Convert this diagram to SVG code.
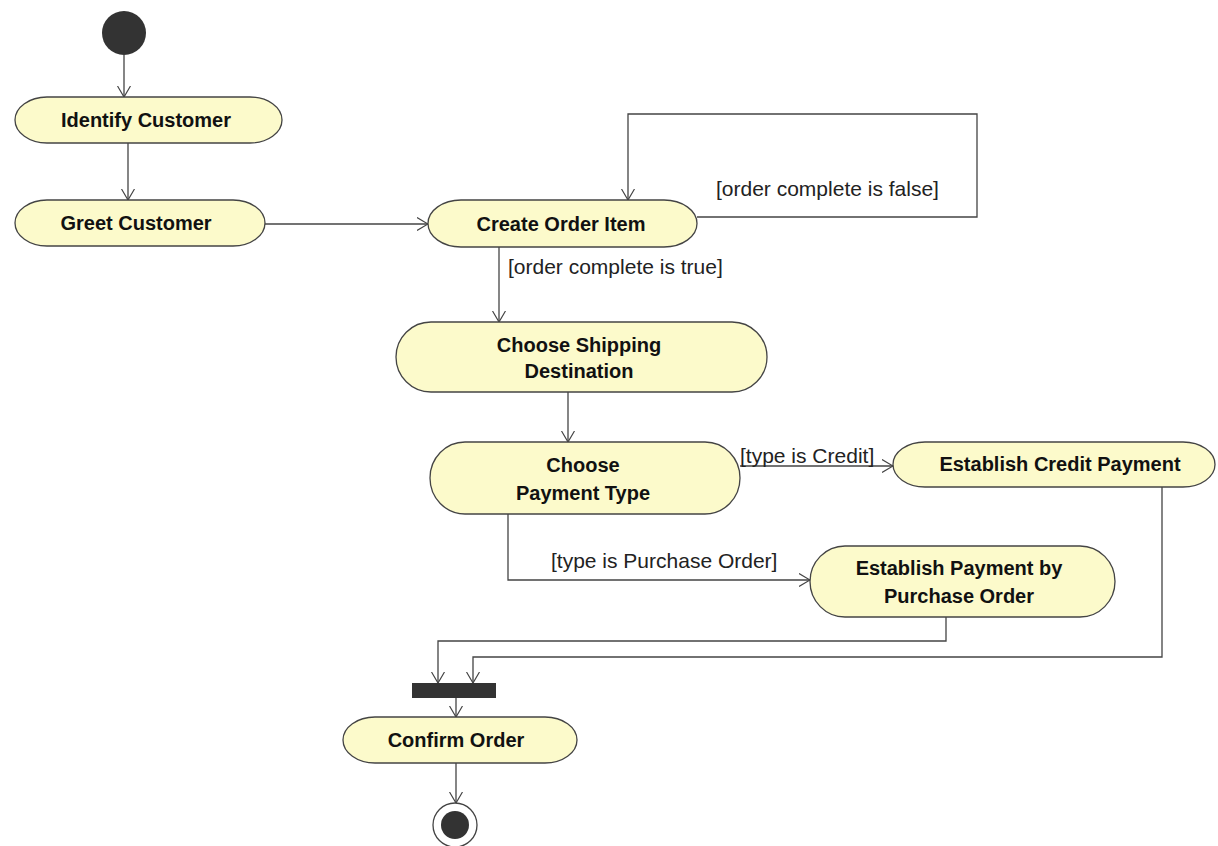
<svg xmlns="http://www.w3.org/2000/svg" width="1218" height="846" viewBox="0 0 1218 846">
<defs>
<marker id="arr" viewBox="0 0 12 14" refX="11" refY="7" markerWidth="12" markerHeight="14" markerUnits="userSpaceOnUse" orient="auto">
<path d="M0,0.5 L11,7 L0,13.5" fill="none" stroke="#444" stroke-width="1.2"/>
</marker>
<style>
.act{fill:#fcfacb;stroke:#444;stroke-width:1.3}
.lbl{font-family:"Liberation Sans",Arial,sans-serif;font-weight:bold;font-size:20px;fill:#111;text-anchor:middle}
.grd{font-family:"Liberation Sans",Arial,sans-serif;font-size:21px;fill:#222}
.con{fill:none;stroke:#444;stroke-width:1.3;marker-end:url(#arr)}
.dark{fill:#333}
</style>
</defs>
<rect width="1218" height="846" fill="#fff"/>
<g id="connectors">
<path class="con" d="M124,55 V97"/>
<path class="con" d="M128,143 V200"/>
<path class="con" d="M265,224 H428"/>
<path class="con" d="M697,217 H977 V114 H628 V200"/>
<path class="con" d="M499,247 V322"/>
<path class="con" d="M568,392 V442"/>
<path class="con" d="M740,466 H893"/>
<path class="con" d="M508,514 V580 H810"/>
<path class="con" d="M1162,487 V657 H473 V683"/>
<path class="con" d="M946,617 V641 H438 V683"/>
<path class="con" d="M456,698 V717"/>
<path class="con" d="M456,763 V803"/>
<text class="grd" x="716" y="196">[order complete is false]</text>
<text class="grd" x="508" y="274">[order complete is true]</text>
<text class="grd" x="740" y="463">[type is Credit]</text>
<text class="grd" x="551" y="568">[type is Purchase Order]</text>
</g>
<g id="start"><circle class="dark" cx="124" cy="33" r="22"/></g>
<g id="identify"><rect class="act" x="15" y="97" width="267" height="46" rx="32" ry="23"/><text class="lbl" x="146" y="127">Identify Customer</text></g>
<g id="greet"><rect class="act" x="15" y="200" width="250" height="46" rx="32" ry="23"/><text class="lbl" x="136" y="230">Greet Customer</text></g>
<g id="create"><rect class="act" x="428" y="200" width="269" height="47" rx="33" ry="23.5"/><text class="lbl" x="561" y="231">Create Order Item</text></g>
<g id="shipping"><rect class="act" x="396" y="322" width="371" height="70" rx="35" ry="35"/><text class="lbl" x="579" y="352">Choose Shipping</text><text class="lbl" x="579" y="378">Destination</text></g>
<g id="payment"><rect class="act" x="430" y="442" width="310" height="72" rx="35" ry="36"/><text class="lbl" x="583" y="472">Choose</text><text class="lbl" x="583" y="500">Payment Type</text></g>
<g id="credit"><rect class="act" x="893" y="442" width="322" height="45" rx="32" ry="22.5"/><text class="lbl" x="1060" y="471">Establish Credit Payment</text></g>
<g id="purchase"><rect class="act" x="810" y="546" width="305" height="71" rx="35" ry="35.5"/><text class="lbl" x="959" y="575">Establish Payment by</text><text class="lbl" x="959" y="603">Purchase Order</text></g>
<g id="fork"><rect class="dark" x="412" y="683" width="84" height="15"/></g>
<g id="confirm"><rect class="act" x="343" y="717" width="234" height="46" rx="32" ry="23"/><text class="lbl" x="456" y="747">Confirm Order</text></g>
<g id="end"><circle cx="455" cy="825" r="22" fill="#fff" stroke="#444" stroke-width="1.3"/><circle class="dark" cx="455" cy="825" r="14"/></g>
</svg>
